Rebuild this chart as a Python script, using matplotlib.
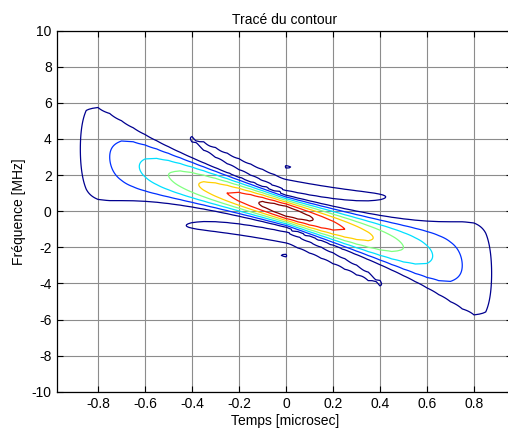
import numpy as np
import matplotlib
matplotlib.use("Agg")
import matplotlib.pyplot as plt

plt.rcParams['font.family'] = ['Liberation Sans', 'DejaVu Sans']
plt.rcParams['axes.unicode_minus'] = False

# Pulse / chirp parameters (LFM ambiguity function)
pulse_width = 1.0          # microsec
chirp_rate = 4.0           # MHz per microsec
tau_grid = np.arange(-1.1, 1.1001, 0.05)     # microsec
fd_grid = np.arange(-10.0, 10.0001, 0.05)    # MHz
levels = [0.125, 0.25, 0.375, 0.5, 0.625, 0.75, 0.875]
level_colors = ['#00008F', '#0030FF', '#00DFFF', '#80FF80', '#FFCF00', '#FF2000', '#800000']

x_ticks = [-0.8, -0.6, -0.4, -0.2, 0, 0.2, 0.4, 0.6, 0.8]
x_ticklabels = ['-0.8', '-0.6', '-0.4', '-0.2', '0', '0.2', '0.4', '0.6', '0.8']
y_ticks = [-10, -8, -6, -4, -2, 0, 2, 4, 6, 8, 10]

TAU, FD = np.meshgrid(tau_grid, fd_grid)
val1 = 1.0 - np.abs(TAU) / pulse_width
amb = np.abs(val1 * np.sinc(pulse_width * val1 * (FD + chirp_rate * TAU)))

fig = plt.figure(figsize=(5.08, 4.33), dpi=100)
W, H = 508, 433
left_px, right_px, top_px, bottom_px = 57.3, 512, 30.7, 391.7
ax = fig.add_axes([left_px / W, (H - bottom_px) / H, (right_px - left_px) / W, (bottom_px - top_px) / H])

ax.contour(TAU, FD, amb, levels=levels, colors=level_colors, linewidths=0.9)

ax.set_xlim(-0.973, (right_px - 286) / 235.0)
ax.set_ylim(-10, 10)
ax.set_xticks(x_ticks)
ax.set_xticklabels(x_ticklabels)
ax.set_yticks(y_ticks)
ax.grid(True, color='#8c8c8c', linewidth=0.8, linestyle='-')
ax.set_axisbelow(True)
ax.tick_params(direction='in', length=4, width=0.8, labelsize=10, top=True, right=True, pad=4)
for s in ax.spines.values():
    s.set_linewidth(0.9)

ax.set_title('Tracé du contour', fontsize=10, pad=5)
ax.set_xlabel('Temps [microsec]', fontsize=10, labelpad=2)
ax.set_ylabel('Fréquence [MHz]', fontsize=10, labelpad=4)

fig.savefig('out.png', dpi=100)
